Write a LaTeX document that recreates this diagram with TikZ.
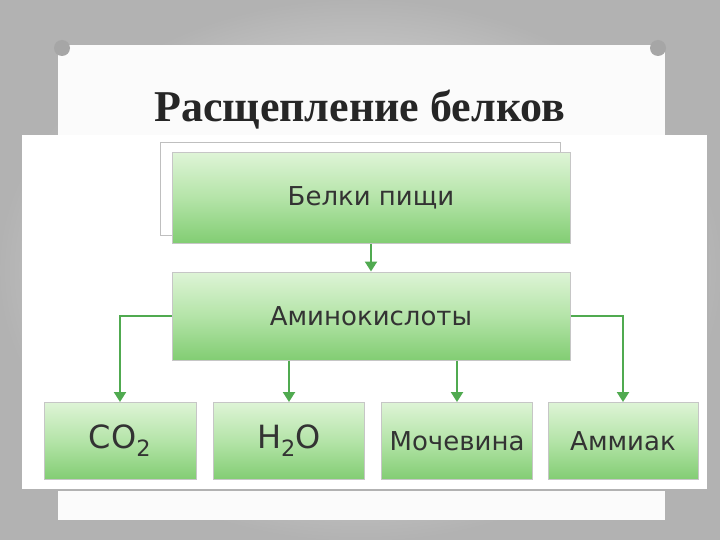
\documentclass[tikz,border=0pt]{standalone}
\usepackage{fontspec}
\setmainfont{DejaVu Sans}
\newfontfamily\titlefont{Liberation Serif}
\usetikzlibrary{arrows.meta}
\definecolor{gtop}{RGB}{222,244,214}
\definecolor{gmid}{RGB}{180,228,168}
\definecolor{gbot}{RGB}{130,205,115}
\definecolor{garr}{RGB}{80,170,80}
\begin{document}
\begin{tikzpicture}[x=1pt,y=-1pt,
 gbox/.style={draw=gray!45,line width=1pt,top color=gtop,bottom color=gbot,middle color=gmid,font=\fontsize{26}{30}\selectfont,text=black!80},
 arr/.style={draw=garr,line width=2.2pt,-{Triangle[length=10pt,width=12pt]}}]
\useasboundingbox (0,0) rectangle (720,540);
\fill[gray!60] (0,0) rectangle (720,540);
\shade[inner color=white,outer color=gray!60] (0,0) rectangle (720,540);
\fill[white!97!gray] (58,45) rectangle (665,520);
\node[font=\titlefont\bfseries\fontsize{44}{48}\selectfont,text=black!85] (title) at (360,110) {Расщепление белков};
\fill[gray!70] (62,48) circle (8);
\fill[gray!70] (658,48) circle (8);
\fill[white] (22,135) rectangle (708,490);
\draw[gray!60,line width=2pt] (22,490) -- (708,490) -- (708,135);
\draw[gray!50] (160,142) rectangle (560,235);
\node[gbox,minimum width=398pt,minimum height=90pt] (a) at (371,198) {Белки пищи};
\node[gbox,minimum width=398pt,minimum height=88pt] (b) at (371,316) {Аминокислоты};
\node[gbox,font=\fontsize{32}{36}\selectfont,minimum width=152pt,minimum height=77pt] (c1) at (120,441) {CO\textsubscript{2}};
\node[gbox,font=\fontsize{32}{36}\selectfont,minimum width=151pt,minimum height=77pt] (c2) at (289,441) {H\textsubscript{2}O};
\node[gbox,minimum width=151pt,minimum height=77pt] (c3) at (457,441) {Мочевина};
\node[gbox,minimum width=150pt,minimum height=77pt] (c4) at (623,441) {Аммиак};
\draw[arr] (a) -- (b);
\draw[arr] (b.west) -| (c1.north);
\draw[arr] (b.east) -| (c4.north);
\draw[arr] (b.south -| c2.north) -- (c2.north);
\draw[arr] (b.south -| c3.north) -- (c3.north);
\end{tikzpicture}
\end{document}
